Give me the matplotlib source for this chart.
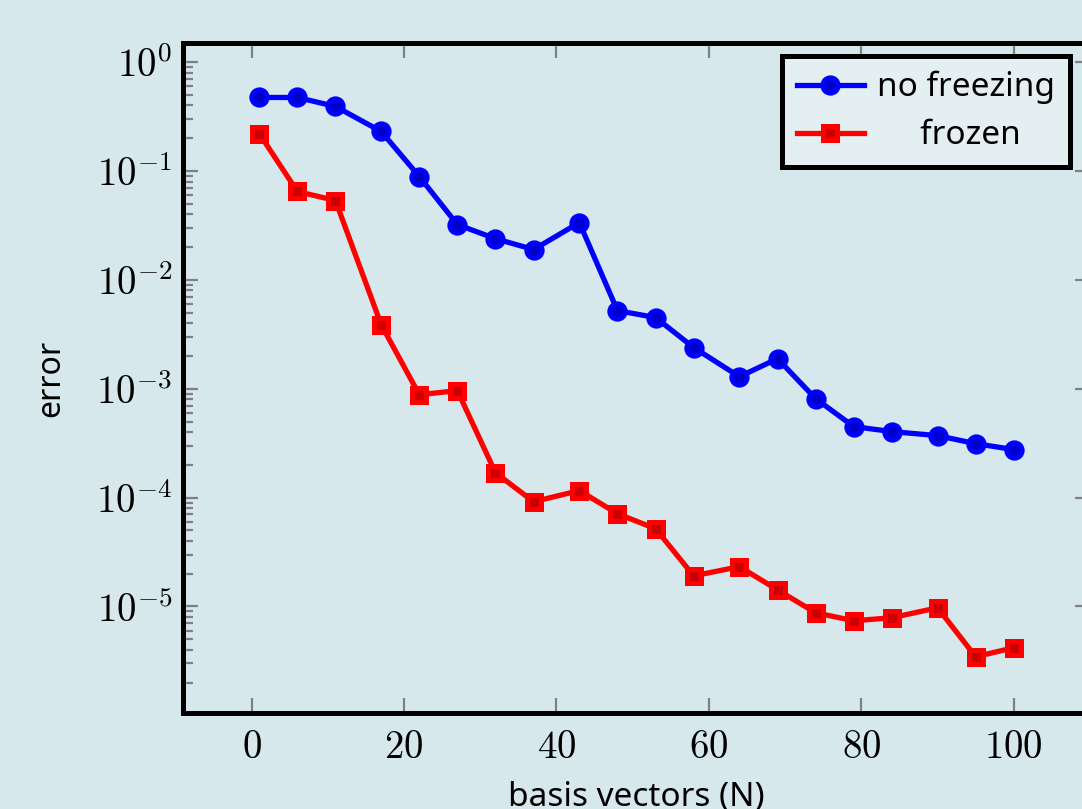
import matplotlib
matplotlib.use("Agg")
import matplotlib.pyplot as plt
from matplotlib.ticker import LogLocator, NullFormatter, FuncFormatter
import numpy as np

# basis vector counts and errors
n_basis = [1, 6, 11, 17, 22, 27, 32, 37, 43, 48, 53, 58, 64, 69, 74, 79, 84, 90, 95, 100]
err_no_freezing = [0.474, 0.474, 0.392, 0.231, 0.0890, 0.0322, 0.0239, 0.0190, 0.0336,
                   0.00522, 0.00451, 0.00239, 0.00129, 0.00189, 0.000811, 0.000449,
                   0.000404, 0.000371, 0.000313, 0.000276]
err_frozen = [0.221, 0.0649, 0.0536, 0.00388, 0.000882, 0.000960, 0.000169, 9.17e-5,
              1.16e-4, 7.11e-5, 5.18e-5, 1.91e-5, 2.32e-5, 1.42e-5, 8.75e-6, 7.39e-6,
              7.87e-6, 9.73e-6, 3.45e-6, 4.18e-6]
x_ticks = [0, 20, 40, 60, 80, 100]

BG = "#d7e8ed"
LABEL_FONT = ["Noto Sans", "DejaVu Sans"]
plt.rcParams["mathtext.fontset"] = "cm"

fig = plt.figure(figsize=(10.82, 8.09), dpi=100, facecolor=BG)
ax = fig.add_axes([183 / 1082, 1 - 713 / 809, (1090 - 183) / 1082, (713 - 43) / 809])
ax.set_facecolor(BG)

ax.plot(n_basis, err_no_freezing, "-o", color="blue", lw=3.8, ms=11,
        mfc="#0000cc", mec="blue", mew=3.6, label="no freezing")
ax.plot(n_basis, err_frozen, "-s", color="red", lw=3.8, ms=10.5,
        mfc="#cc0000", mec="red", mew=3.6, label="     frozen")

ax.set_yscale("log")
ax.set_xlim(-9, 110)
ax.set_ylim(1.05e-6, 1.5)
ax.set_xticks(x_ticks)
ax.xaxis.set_major_formatter(FuncFormatter(lambda v, p: r"$%d$" % v))
ax.yaxis.set_major_locator(LogLocator(base=10, numticks=10))
ax.yaxis.set_major_formatter(FuncFormatter(lambda v, p: r"$10^{%d}$" % round(np.log10(v))))
ax.yaxis.set_minor_locator(LogLocator(base=10, subs=range(2, 10), numticks=20))
ax.yaxis.set_minor_formatter(NullFormatter())

for side in ["left", "bottom", "top"]:
    ax.spines[side].set_linewidth(3.6)
    ax.spines[side].set_color("black")
ax.spines["right"].set_visible(False)

ax.tick_params(which="major", direction="in", length=11, width=1.6, color="#808080",
               top=True, right=True, labelsize=28)
ax.tick_params(axis="x", which="major", pad=11)
ax.tick_params(axis="y", which="major", pad=7.5)
ax.tick_params(axis="y", which="minor", direction="in", length=7, width=1.6,
               color="#808080", right=False)
ax.tick_params(axis="x", which="minor", bottom=False, top=False)

ax.set_ylabel("error", fontsize=23, family=LABEL_FONT, labelpad=21)
ax.set_xlabel("basis vectors (N)", fontsize=24, family=LABEL_FONT, labelpad=10)

leg = ax.legend(loc="upper right", bbox_to_anchor=((1080 - 183) / (1090 - 183), 1 - 3 / 670),
                prop={"family": LABEL_FONT, "size": 24}, fancybox=False,
                framealpha=1, facecolor="#e4eff2", edgecolor="black",
                handlelength=2.0, borderpad=0.45, labelspacing=0.45, handletextpad=0.4,
                borderaxespad=0.3)
leg.get_frame().set_linewidth(3.6)

fig.savefig("out.png", dpi=100, facecolor=BG)
